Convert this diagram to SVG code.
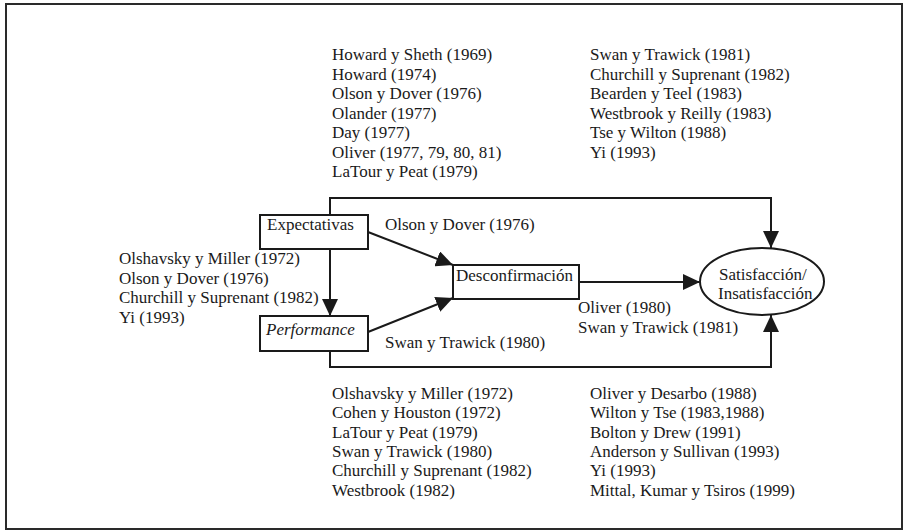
<svg xmlns="http://www.w3.org/2000/svg" width="903" height="532" viewBox="0 0 903 532">
<style>
text{font-family:"Liberation Serif","Times New Roman",serif;font-size:17px;fill:#1a1a1a}
.box{fill:#fff;stroke:#1a1a1a;stroke-width:2}
.ln{fill:none;stroke:#1a1a1a;stroke-width:2}
.it{font-style:italic}
</style>
<defs>
<marker id="ah" markerUnits="userSpaceOnUse" markerWidth="18" markerHeight="16" refX="17" refY="8" orient="auto">
<path d="M0,0 L17,8 L0,16 z" fill="#1a1a1a"/>
</marker>
</defs>
<rect x="0" y="0" width="903" height="532" fill="#fff"/>
<rect x="6" y="4" width="896" height="525" fill="none" stroke="#2a2a2a" stroke-width="2"/>

<g id="connectors">
<path class="ln" d="M330,215 V198 H771 V248" marker-end="url(#ah)"/>
<path class="ln" d="M330,249 V316" marker-end="url(#ah)"/>
<path class="ln" d="M330,351 V367 H771 V315" marker-end="url(#ah)"/>
<path class="ln" d="M368,232 L453,265" marker-end="url(#ah)"/>
<path class="ln" d="M368,332 L453,298" marker-end="url(#ah)"/>
<path class="ln" d="M579,282 H700" marker-end="url(#ah)"/>
</g>

<g id="expectativas">
<rect class="box" x="260" y="215" width="108" height="34"/>
<text x="267" y="230">Expectativas</text>
</g>
<g id="performance">
<rect class="box" x="260" y="316" width="108" height="35"/>
<text class="it" x="266" y="335">Performance</text>
</g>
<g id="desconfirmacion">
<rect class="box" x="453" y="265" width="126" height="34"/>
<text x="456" y="281">Desconfirmación</text>
</g>
<g id="satisfaccion">
<ellipse cx="762" cy="281.5" rx="62" ry="33.5" fill="#fff" stroke="#1a1a1a" stroke-width="2"/>
<text x="719" y="280">Satisfacción/</text>
<text x="718" y="299">Insatisfacción</text>
</g>

<g id="labels">
<text x="385" y="230">Olson y Dover (1976)</text>
<text x="385" y="348">Swan y Trawick (1980)</text>
<text x="578" y="313">Oliver (1980)</text>
<text x="578" y="333">Swan y Trawick (1981)</text>

<text x="332" y="60">Howard y Sheth (1969)</text>
<text x="332" y="79.5">Howard (1974)</text>
<text x="332" y="99">Olson y Dover (1976)</text>
<text x="332" y="118.5">Olander (1977)</text>
<text x="332" y="138">Day (1977)</text>
<text x="332" y="157.5">Oliver (1977, 79, 80, 81)</text>
<text x="332" y="177">LaTour y Peat (1979)</text>

<text x="590" y="60">Swan y Trawick (1981)</text>
<text x="590" y="79.5">Churchill y Suprenant (1982)</text>
<text x="590" y="99">Bearden y Teel (1983)</text>
<text x="590" y="118.5">Westbrook y Reilly (1983)</text>
<text x="590" y="138">Tse y Wilton (1988)</text>
<text x="590" y="157.5">Yi (1993)</text>

<text x="119" y="264">Olshavsky y Miller (1972)</text>
<text x="119" y="283.5">Olson y Dover (1976)</text>
<text x="119" y="303">Churchill y Suprenant (1982)</text>
<text x="119" y="322.5">Yi (1993)</text>

<text x="332" y="399">Olshavsky y Miller (1972)</text>
<text x="332" y="418.3">Cohen y Houston (1972)</text>
<text x="332" y="437.6">LaTour y Peat (1979)</text>
<text x="332" y="456.9">Swan y Trawick (1980)</text>
<text x="332" y="476.2">Churchill y Suprenant (1982)</text>
<text x="332" y="495.5">Westbrook (1982)</text>

<text x="590" y="399">Oliver y Desarbo (1988)</text>
<text x="590" y="418.3">Wilton y Tse (1983,1988)</text>
<text x="590" y="437.6">Bolton y Drew (1991)</text>
<text x="590" y="456.9">Anderson y Sullivan (1993)</text>
<text x="590" y="476.2">Yi (1993)</text>
<text x="590" y="495.5">Mittal, Kumar y Tsiros (1999)</text>
</g>
</svg>
